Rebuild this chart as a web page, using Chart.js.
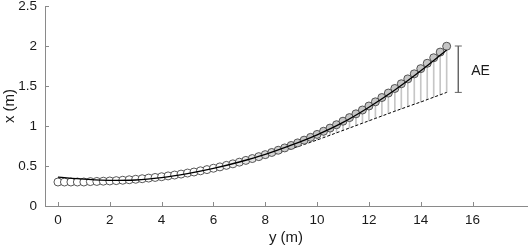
<!DOCTYPE html>
<html>
<head>
<meta charset="utf-8">
<script src="https://cdn.jsdelivr.net/npm/chart.js@4/dist/chart.umd.min.js"></script>
<style>
html,body{margin:0;padding:0;background:#fff;}
#wrap{position:relative;width:532px;height:249px;}
</style>
</head>
<body>
<div id="wrap"><canvas id="c" width="532" height="249"></canvas></div>
<script>
// ---- data ----
const obsX = [0,0.25,0.5,0.75,1,1.25,1.5,1.75,2,2.25,2.5,2.75,3,3.25,3.5,3.75,4,4.25,4.5,4.75,5,5.25,5.5,5.75,6,6.25,6.5,6.75,7,7.25,7.5,7.75,8,8.25,8.5,8.75,9,9.25,9.5,9.75,10,10.25,10.5,10.75,11,11.25,11.5,11.75,12,12.25,12.5,12.75,13,13.25,13.5,13.75,14,14.25,14.5,14.75,15];
const obsY = [0.30,0.30,0.30,0.30,0.30,0.305,0.307,0.31,0.313,0.317,0.322,0.328,0.334,0.341,0.349,0.357,0.366,0.376,0.387,0.399,0.412,0.425,0.44,0.455,0.472,0.489,0.508,0.527,0.548,0.57,0.593,0.617,0.642,0.669,0.697,0.726,0.757,0.789,0.823,0.858,0.895,0.934,0.974,1.016,1.06,1.105,1.152,1.2,1.25,1.302,1.356,1.412,1.469,1.528,1.589,1.652,1.717,1.784,1.853,1.924,1.997];
const dashY = [0.335,0.332,0.329,0.326,0.324,0.322,0.321,0.321,0.322,0.323,0.325,0.328,0.331,0.335,0.34,0.347,0.355,0.364,0.374,0.384,0.395,0.408,0.421,0.435,0.45,0.467,0.486,0.505,0.525,0.546,0.567,0.588,0.61,0.635,0.661,0.688,0.715,0.742,0.769,0.797,0.825,0.855,0.885,0.915,0.945,0.975,1.005,1.035,1.065,1.095,1.125,1.155,1.185,1.214,1.243,1.272,1.30,1.33,1.36,1.39,1.42];
const modelX = [0,1,2,3,4,5,6,7,8,9,10,11,12,13,14,15];
const modelY = [0.36,0.335,0.32,0.325,0.355,0.405,0.47,0.55,0.645,0.76,0.89,1.045,1.235,1.45,1.69,1.95];
const aeX = 15.45;
const aeTop = 2.0;
const aeBottom = 1.42;
const aeLabel = "AE";
const aeLabelPos = [15.95, 1.68];
const xTicks = [0,2,4,6,8,10,12,14,16];
const yTicks = [0,0.5,1,1.5,2,2.5];
const xTitle = "y (m)";
const yTitle = "x (m)";

// ---- build datasets ----
const pts = (xs, ys) => xs.map((x, i) => ({x: x, y: ys[i]}));
const stems = obsX.map((x, i) => ({x: x, y: [dashY[i], obsY[i]]}));
const AXIS = '#8a8a8a';
const TXT = '#1a1a1a';
const FONT = "'Liberation Sans', Arial, Helvetica, sans-serif";

function circleFill(ctx) {
  const raw = ctx.raw;
  if (!raw) return '#fff';
  let t = (raw.x - 6) / 3;
  t = Math.max(0, Math.min(1, t));
  const g = Math.round(255 - t * 57);
  return 'rgb(' + g + ',' + g + ',' + g + ')';
}

const overlay = {
  id: 'overlay',
  afterDraw(chart) {
    const c = chart.ctx;
    const xs = chart.scales.x, ys = chart.scales.y;
    const a = chart.chartArea;
    c.save();
    c.strokeStyle = AXIS;
    c.lineWidth = 1;
    c.beginPath();
    xTicks.forEach(v => {
      const px = Math.round(xs.getPixelForValue(v)) + 0.5;
      c.moveTo(px, a.bottom); c.lineTo(px, a.bottom - 4);
    });
    yTicks.forEach(v => {
      const py = Math.round(ys.getPixelForValue(v)) + 0.5;
      c.moveTo(a.left, py); c.lineTo(a.left + 4, py);
    });
    c.stroke();
    c.fillStyle = TXT;
    c.font = '14px ' + FONT;
    c.textAlign = 'left';
    c.textBaseline = 'middle';
    c.fillText(aeLabel, xs.getPixelForValue(aeLabelPos[0]), ys.getPixelForValue(aeLabelPos[1]));
    c.restore();
  }
};

new Chart(document.getElementById('c'), {
  data: {
    datasets: [
      { type: 'line', label: 'model', data: pts(modelX, modelY), borderColor: '#000', borderWidth: 1.3,
        pointRadius: 0, cubicInterpolationMode: 'monotone', fill: false, order: 0 },
      { type: 'line', label: 'AE', data: [{x: aeX, y: aeTop}, {x: aeX, y: aeBottom}], borderColor: '#666',
        borderWidth: 1, pointStyle: 'line', pointRadius: 3.5, pointBorderColor: '#666', pointBorderWidth: 1,
        fill: false, order: 0 },
      { type: 'line', label: 'obs', data: pts(obsX, obsY), showLine: false, pointRadius: 4,
        pointBorderWidth: 0.9, pointBorderColor: '#454545', pointBackgroundColor: circleFill, order: 1 },
      { type: 'line', label: 'alt', data: pts(obsX, dashY), borderColor: '#000', borderWidth: 1,
        borderDash: [3, 2], pointRadius: 0, fill: false, order: 2 },
      { type: 'bar', label: 'stems', data: stems, backgroundColor: '#c6c6c6', borderWidth: 0,
        barThickness: 1, grouped: false, order: 3 }
    ]
  },
  options: {
    responsive: false,
    animation: false,
    events: [],
    layout: { padding: { top: 0, right: 0, left: 0, bottom: 0 } },
    plugins: { legend: { display: false }, tooltip: { enabled: false } },
    scales: {
      x: {
        type: 'linear', min: -0.5, max: 18.1, offset: false,
        afterBuildTicks: s => { s.ticks = xTicks.map(v => ({value: v})); },
        afterFit: s => { s.height = 43; s.paddingLeft = 0; s.paddingRight = 0; },
        grid: { display: false, drawTicks: false, offset: false },
        border: { display: true, color: AXIS, width: 1 },
        ticks: { color: TXT, padding: 6, font: { family: FONT, size: 13.5 }, maxRotation: 0,
                 callback: v => String(v) },
        title: { display: true, text: xTitle, color: TXT, font: { family: FONT, size: 15 },
                 padding: { top: 0, bottom: 2 } }
      },
      y: {
        type: 'linear', min: 0, max: 2.5,
        afterBuildTicks: s => { s.ticks = yTicks.map(v => ({value: v})); },
        afterFit: s => { s.width = 45; s.paddingTop = 6; s.paddingBottom = 0; },
        grid: { display: false, drawTicks: false },
        border: { display: true, color: AXIS, width: 1 },
        ticks: { color: TXT, padding: 8, font: { family: FONT, size: 13.5 },
                 callback: v => String(v) },
        title: { display: true, text: yTitle, color: TXT, font: { family: FONT, size: 15 },
                 padding: { top: 1, bottom: 0 } }
      }
    }
  },
  plugins: [overlay]
});
</script>
</body>
</html>
